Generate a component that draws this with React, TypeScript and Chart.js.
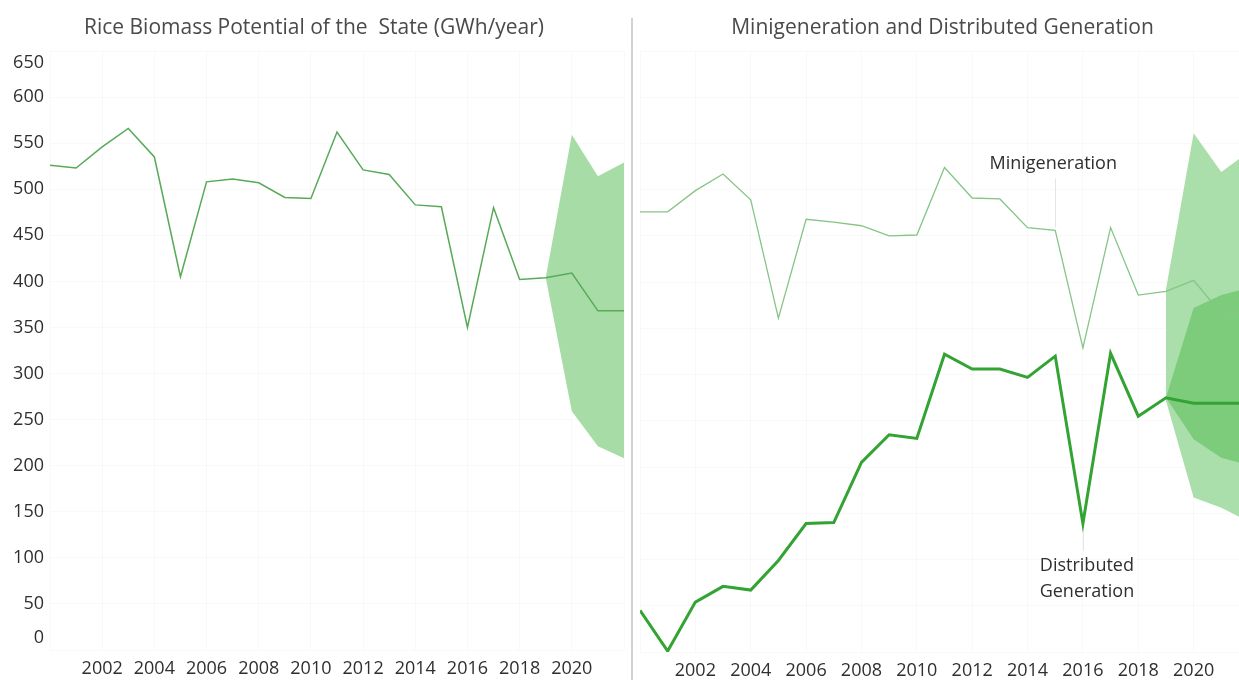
import React, { useEffect, useRef } from "react";
import { Chart, registerables } from "chart.js";

Chart.register(...registerables);

// ---------- data ----------
const years = [
  2000, 2001, 2002, 2003, 2004, 2005, 2006, 2007, 2008, 2009, 2010, 2011,
  2012, 2013, 2014, 2015, 2016, 2017, 2018, 2019, 2020, 2021, 2022,
];
const biomass = [
  526, 523, 546, 566, 535, 405, 508, 511, 507, 491, 490, 562, 521, 516, 483,
  481, 350, 480, 402, 404, 409, 368, 368,
];
const forecastYears = [2019, 2020, 2021, 2022];
const biomassHi = [404, 559, 514, 529];
const biomassLo = [404, 259, 221, 208];

const minigeneration = [
  476, 476, 499, 517, 489, 361, 468, 465, 461, 450, 451, 524, 491, 490, 459,
  456, 329, 459, 386, 390, 402, 366, 366,
];
const distributed = [
  45, 1, 54, 71, 67, 99, 139, 140, 205, 235, 231, 322, 306, 306, 297, 320,
  139, 323, 255, 275, 269, 269, 269,
];
const outerHi = [392, 561, 519, 541];
const outerLo = [272, 167, 156, 141];
const innerHi = [275, 372, 386, 394];
const innerLo = [275, 230, 210, 202];

const xTickLabels = ["2002", "2004", "2006", "2008", "2010", "2012", "2014", "2016", "2018", "2020"];
const yMin = 0;
const yMax = 650;
const yStep = 50;

const leftTitle = "Rice Biomass Potential of the  State (GWh/year)";
const rightTitle = "Minigeneration and Distributed Generation";
const miniLabel = ["Minigeneration"];
const distLabel = ["Distributed", "Generation"];

// ---------- helpers ----------
const FONT = '"Open Sans", "Noto Sans", sans-serif';
const GRID = "rgba(0,0,0,0.025)";

const pts = (xs: number[], ys: number[]) => xs.map((x, i) => ({ x, y: ys[i] }));

function xScale() {
  return {
    type: "linear",
    min: years[0],
    max: years[years.length - 1],
    ticks: {
      stepSize: 2,
      autoSkip: false,
      maxRotation: 0,
      padding: 8,
      color: "#2f2f2f",
      font: { family: FONT, size: 18 },
      callback: (v: number) => (xTickLabels.includes(String(v)) ? String(v) : ""),
    },
    grid: { color: GRID, drawTicks: false },
    border: { display: false },
    afterFit: (s: any) => {
      s.height = 28;
    },
  };
}

function yScale(showLabels: boolean, width: number) {
  return {
    type: "linear",
    min: yMin,
    max: yMax,
    ticks: {
      display: showLabels,
      stepSize: yStep,
      autoSkip: false,
      padding: 6,
      color: "#2f2f2f",
      font: { family: FONT, size: 18, lineHeight: 24 / 18 },
      callback: (v: number) => {
        if (v === yMax) return ["", String(v)];
        if (v === yMin) return [String(v), ""];
        return String(v);
      },
    },
    grid: { color: GRID, drawTicks: false },
    border: { display: false },
    afterFit: (s: any) => {
      s.width = width;
    },
  };
}

function titleOpts(text: string) {
  return {
    display: true,
    text,
    color: "#4a4a4a",
    font: { family: FONT, size: 21, weight: "normal" as const },
    padding: { top: 15.4, bottom: 10.4 },
  };
}

const annotatePlugin = {
  id: "annotate",
  afterDatasetsDraw(chart: any) {
    const { ctx } = chart;
    const xs = chart.scales.x;
    const ys = chart.scales.y;
    const i15 = years.indexOf(2015);
    const i16 = years.indexOf(2016);
    const mx = xs.getPixelForValue(2015);
    const my = ys.getPixelForValue(minigeneration[i15]);
    const dx = xs.getPixelForValue(2016);
    const dy = ys.getPixelForValue(distributed[i16]);
    ctx.save();
    ctx.strokeStyle = "rgba(0,0,0,0.1)";
    ctx.lineWidth = 1;
    ctx.beginPath();
    ctx.moveTo(Math.round(mx) + 0.5, my - 3);
    ctx.lineTo(Math.round(mx) + 0.5, my - 52);
    ctx.stroke();
    ctx.beginPath();
    ctx.moveTo(Math.round(dx) + 0.5, dy + 6);
    ctx.lineTo(Math.round(dx) + 0.5, dy + 27);
    ctx.stroke();
    ctx.font = `18px ${FONT}`;
    ctx.fillStyle = "#2f2f2f";
    ctx.textAlign = "center";
    ctx.textBaseline = "middle";
    miniLabel.forEach((t, i) => ctx.fillText(t, mx - 2, my - 67 + i * 26));
    distLabel.forEach((t, i) => ctx.fillText(t, dx + 4, dy + 42 + i * 26));
    ctx.restore();
  },
};

function useChart(ref: React.RefObject<HTMLCanvasElement>, build: () => any) {
  useEffect(() => {
    if (!ref.current) return;
    const chart = new Chart(ref.current, build());
    return () => chart.destroy();
  }, []);
}

export default function App() {
  const leftRef = useRef<HTMLCanvasElement>(null);
  const rightRef = useRef<HTMLCanvasElement>(null);

  useChart(leftRef, () => ({
    type: "line",
    data: {
      datasets: [
        {
          data: pts(years, biomass),
          borderColor: "#58a958",
          borderWidth: 1.5,
          pointRadius: 0,
          tension: 0,
          fill: false,
          order: 1,
        },
        {
          data: pts(forecastYears, biomassHi),
          borderWidth: 0,
          borderColor: "rgba(0,0,0,0)",
          pointRadius: 0,
          fill: false,
          order: 10,
        },
        {
          data: pts(forecastYears, biomassLo),
          borderWidth: 0,
          borderColor: "rgba(0,0,0,0)",
          backgroundColor: "#a7dca7",
          pointRadius: 0,
          fill: "-1",
          order: 9,
        },
      ],
    },
    options: {
      responsive: false,
      animation: false,
      events: [],
      layout: { padding: { left: 0, right: 4, top: 0, bottom: 0 } },
      scales: { x: xScale(), y: yScale(true, 50) },
      plugins: {
        legend: { display: false },
        tooltip: { enabled: false },
        title: titleOpts(leftTitle),
      },
    },
  }));

  useChart(rightRef, () => ({
    type: "line",
    data: {
      datasets: [
        {
          data: pts(years, distributed),
          borderColor: "#33a333",
          borderWidth: 3,
          pointRadius: 0,
          tension: 0,
          fill: false,
          order: 1,
        },
        {
          data: pts(years, minigeneration),
          borderColor: "#86c586",
          borderWidth: 1.3,
          pointRadius: 0,
          tension: 0,
          fill: false,
          order: 2,
        },
        {
          data: pts(forecastYears, innerHi),
          borderWidth: 0,
          borderColor: "rgba(0,0,0,0)",
          pointRadius: 0,
          fill: false,
          order: 5,
        },
        {
          data: pts(forecastYears, innerLo),
          borderWidth: 0,
          borderColor: "rgba(0,0,0,0)",
          backgroundColor: "#7ccc7c",
          pointRadius: 0,
          fill: "-1",
          order: 4,
        },
        {
          data: pts(forecastYears, outerHi),
          borderWidth: 0,
          borderColor: "rgba(0,0,0,0)",
          pointRadius: 0,
          fill: false,
          order: 11,
        },
        {
          data: pts(forecastYears, outerLo),
          borderWidth: 0,
          borderColor: "rgba(0,0,0,0)",
          backgroundColor: "#aadeaa",
          pointRadius: 0,
          fill: "-1",
          order: 10,
        },
      ],
    },
    options: {
      responsive: false,
      animation: false,
      events: [],
      layout: { padding: { left: 2, right: 6, top: 0, bottom: 0 } },
      scales: { x: xScale(), y: yScale(false, 0) },
      plugins: {
        legend: { display: false },
        tooltip: { enabled: false },
        title: titleOpts(rightTitle),
      },
    },
    plugins: [annotatePlugin],
  }));

  return (
    <div
      style={{
        position: "fixed",
        left: 0,
        top: 0,
        width: 1239,
        height: 680,
        overflow: "hidden",
        background: "#fff",
      }}
    >
      <canvas
        ref={leftRef}
        width={632}
        height={680}
        style={{ position: "absolute", left: 0, top: 0 }}
      />
      <canvas
        ref={rightRef}
        width={625}
        height={680}
        style={{ position: "absolute", left: 632, top: 0 }}
      />
      <div
        style={{
          position: "absolute",
          left: 631,
          top: 18,
          width: 2,
          height: 662,
          background: "#d2d2d2",
        }}
      />
    </div>
  );
}
